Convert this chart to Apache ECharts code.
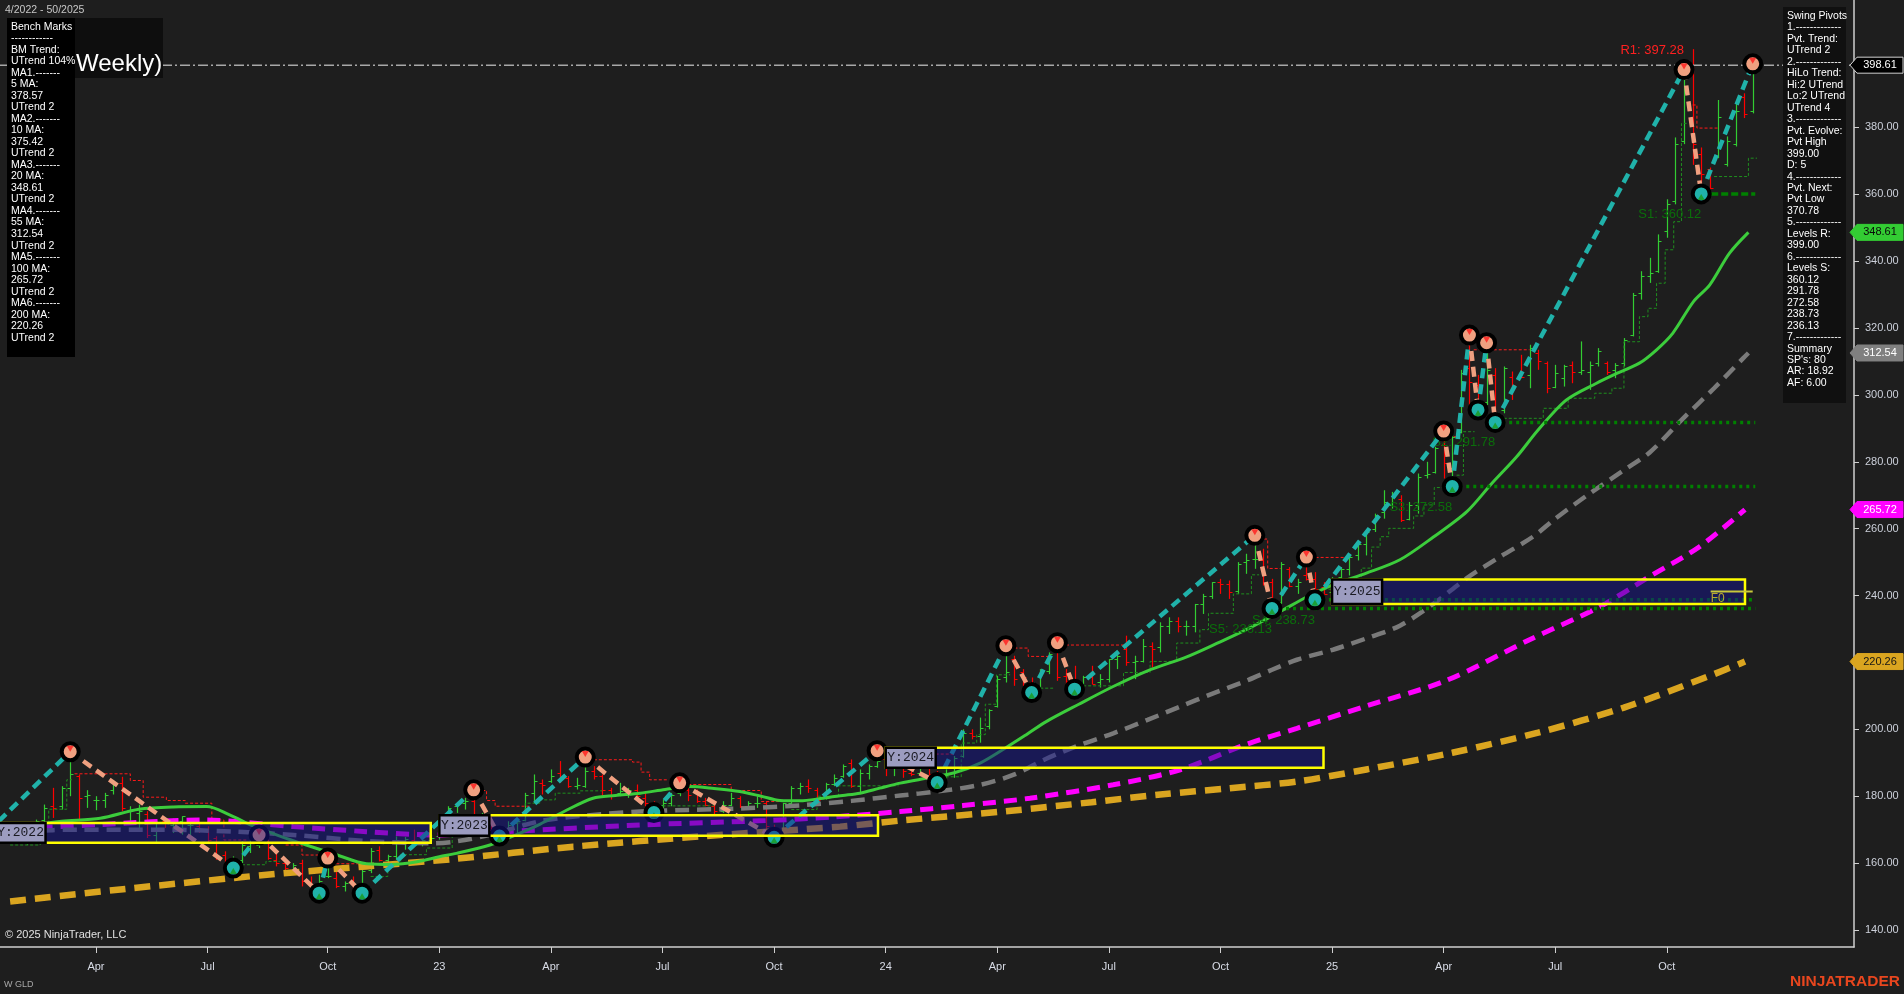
<!DOCTYPE html>
<html><head><meta charset="utf-8">
<script src="https://cdn.jsdelivr.net/npm/echarts@6/dist/echarts.min.js"></script>
<style>html,body{margin:0;padding:0;background:#1e1e1e;overflow:hidden}#c{width:1904px;height:994px}</style>
</head><body><div id="c"></div><script>
// ---------- DATA ----------
const xLabelIdx = [12,25,39,52,65,78,91,104,117,130,143,156,169,182,195];
const xLabelText = ['Apr','Jul','Oct','23','Apr','Jul','Oct','24','Apr','Jul','Oct','25','Apr','Jul','Oct'];
const yTicks = [140,160,180,200,220,240,260,280,300,320,340,360,380];

// weekly OHLC [open, high, low, close]; week index 0 = week of 2022-01-03
const start2022 = 3, start2023 = 52, start2024 = 104, start2025 = 156;
const bars2022 = [[171,171.5,166,166.5],[166.7,168,165.5,168],[168,173,167.5,172.5],[173,177.5,171.5,176.5],[177,182.5,173.5,176.5],[177,183,176,182.5],[182.5,193.3,180,186.5],[186,186.5,172.5,179.5],[180,181.8,176.5,180.5],[179,180,175.8,179],[179,181,176.5,180.5],[182,184.8,180.5,183.5],[184,185.8,175.5,176.5],[176,177,172,176],[175,177.5,170.5,175.5],[174.8,175.5,167.5,168.5],[168.5,172.5,166,172],[172.5,173.5,170.5,172],[171.5,173.3,169,173],[172.6,174,168.5,174],[171.5,172.5,167.5,171.5],[171,172,169,170],[170,171,166,167],[167.5,168,161,162],[162.5,163.5,159,160],[159.5,162,158.5,161.5],[161,166.5,160,165.5],[165,167,163,166],[165.5,168.4,164.5,167],[166.7,167,161,161.5],[161,163.5,159,160],[160,161,157,158.5],[157.5,160,156.5,159.5],[160,161,153,154.5],[154,156,152,152.5],[152.5,156.5,151,154.5],[156,161.5,155.5,156],[155.5,157.5,152.5,153],[153,154.5,151.5,154],[154,156,152,152.5],[152.5,158,151,157.5],[158,164.5,157,163.5],[164,165,160.5,161],[161,162.5,160,162],[162,168,161,167],[166.7,167.8,164,167.2],[167,170,165,166.5],[166.5,168.5,165,167],[167,168.5,166.5,167.5]];
const bars2023 = [[168,172,167,172],[172,177,171,176.5],[177,178,175,178],[178,179.5,176,178.5],[178.5,181.9,173,173.5],[173,175,172,173],[173,174,169.5,170],[170,171,168.1,168.5],[168.5,172.5,168.5,171.5],[172,173,168.5,172.5],[173,181,172.5,180.5],[181,186.5,178,184.5],[184,185,180.5,183.3],[184.5,188,184,186],[187,190.5,184,185],[185.5,186,182.5,183],[183,185.5,182,183.2],[183,191.7,182.5,187.5],[187.5,189,185,186],[186,186.5,180,182],[182,182.5,179,180.5],[181,184,180,181.5],[181.5,182.5,179.5,182],[182,183.5,178.5,180],[179.5,181,177,178],[178,178.5,175.1,177.5],[177.5,179,176.5,178],[178,181,177,180.5],[181,184,180,182],[182,183,178.5,180.5],[181,182,178,178.5],[178.5,179.5,177,177.5],[177,178,174.5,175.5],[175.5,178.5,175,177.5],[177.5,181,177,179.5],[179.5,180,176.5,177],[177,178.5,176,178],[178,180,176.5,178],[178,178.5,170,171],[170.5,171.5,167.7,169],[170,178,169.5,178],[178,183,176.5,182.5],[182.5,184,180.5,183],[183,185,181,182.5],[182,182.5,178,179],[179.5,184,179,183.5],[183.5,186.5,183,185.5],[186,189.5,185.5,189],[190,191,182.5,183],[183,188,181,187],[187,189.5,185,189],[189,193.6,188.5,190.5]];
const bars2024 = [[191,191.5,186,189],[188.5,189.8,186,189],[189.5,190,185.5,187.5],[187,188.5,186,186.7],[187,191,186,188.5],[188.5,189.5,186,186.5],[186.5,187.5,184.1,186],[186,188,185,187],[187,192,185.5,191.5],[192,200,191.5,199],[199,200,197,198],[198,203.5,196,200.5],[201,206,200,205.7],[207,216,206.5,215],[215.5,225,214,217],[221,222,213,215],[217,218,213,215.5],[214,215.5,211,212.5],[212.5,218,212,217.5],[217.5,223,216.5,222.5],[225,225.9,214.5,215.5],[216,218,213.5,214.5],[215,219,212,212.5],[213,216,212.5,215.5],[215.5,219,213.5,213.5],[214,216.5,212.5,215],[215,221,214,221],[221,222.5,218,222],[224,228,219,220],[220,222,215,220.5],[220.5,227,220,225],[225,226,218.5,224],[224.5,232,223,231],[231,233.5,228.5,232.5],[232.5,233.5,229,231],[231,232.5,228,231],[231,237.5,229,237.5],[237.5,240.5,234.5,240],[240,244,239,244],[244,245,240.5,243.5],[243.5,244.5,239,241],[241.5,250,240.5,249.5],[250,252.5,246.5,250.5],[251,258,248,251],[250.5,254,243,246],[244,245,236.13,236.5],[238,250,237.5,249.5],[248,248.5,242.5,243],[243,245,240.5,244],[246,251.5,244.5,245],[245,247,238.73,242],[242.5,244,240.5,240.5]];
const bars2025 = [[241,245.5,240.5,245],[245.5,248.5,244.5,248],[248,252,246,251.5],[252,256,250.5,255.5],[255.5,259.5,252,259],[260,264.5,259,264],[265,271.5,263,268],[267,271,266,269.5],[269,270,262,262.5],[263,268,262.5,267],[267,276.5,264.5,275.5],[276,280,275,276.5],[277,284.5,276.5,284],[285,289.2,275,279.5],[278,288,272.58,287.5],[289,307.5,288.5,306.5],[308,317.9,296,304],[303,306,295.5,297],[298,315.6,297,307.5],[306,308,291.78,294],[295.5,308.5,294.5,308],[305.5,307,298.5,303],[306,312,305,305.5],[306,315,302,314],[312.5,313.5,307.5,310],[309.5,310,300.5,302],[302.5,309,302,306.5],[305,309,302.5,308.5],[309,310,303.5,307],[307,316,306,307.5],[307,310,301.5,309],[309.5,314,308.5,313],[309.5,310,306,307],[307.5,309.5,305,309],[309.5,317,308.5,316.5],[318,330.5,317.5,330],[330.5,337,328.5,335.5],[335.5,341,333.5,336.5],[337,348,336.5,346],[349,358.5,347,357],[358,377,357,375],[376,397.28,375,392],[397,403.4,368.8,375],[372,374,360.12,366],[367.5,368,361.4,362],[371,388.2,370.8,383],[369,377.3,368.3,376],[375,387.7,374.3,385],[389,390.2,382.8,384],[385,399,384.2,398.61]];

// moving averages: [week index, value]
const ma20 = [[5,171.5],[8,172.5],[12.5,173.4],[17,176.1],[21,176.8],[24.9,176.9],[27.5,174.5],[30.3,171.1],[33.5,168],[36.5,165.4],[40,162.5],[43.5,159.8],[46.5,159.6],[49.4,160.4],[52,161.9],[54,162.9],[57.9,165.4],[60.5,168],[63.7,171.6],[66.8,175.8],[69.9,179.4],[72.5,180.2],[75.4,180.9],[78.3,182],[81.2,182.9],[84,182.3],[87,181.4],[89.5,180],[91.7,178.7],[94,178.6],[96.7,179.4],[99,180.2],[101,180.9],[103.3,182.4],[105.7,183.9],[109,185.5],[112,187],[115,189.9],[118,194.5],[120.5,198.6],[122.7,202.3],[126.5,207.5],[130.5,212.8],[134.5,217.5],[139,221.6],[142.5,225.6],[146,229.8],[150.3,235.7],[153,239.5],[156.1,243.2],[160,246.7],[163.9,250.7],[167.8,257.5],[171.7,265.1],[174.6,273.5],[177.5,281.5],[180,289.5],[183.3,298.5],[186.8,303.5],[188.8,306],[191.8,309.5],[193.8,313.5],[195.7,318.5],[198.1,327.9],[200,332.9],[202.3,342.4],[204.5,348.61]];
const ma55 = [[3,169.5],[10,170],[20,170],[28,169.4],[35,168.4],[43.5,166.6],[51.3,165.9],[54,166.5],[58,168.5],[63.7,172.5],[69,174.2],[75.4,175.4],[81,175.9],[87,176.3],[94.8,177.4],[100,178.6],[105.7,180.2],[110,181.4],[115,183.4],[119,186.5],[122.7,191.2],[126.5,195.2],[130.5,198.8],[134.5,202.8],[138.3,206.8],[142,210.6],[146,214.5],[149,217.8],[151.9,220.8],[156.1,223.8],[160,227.2],[163.9,231],[167.8,237.5],[171.7,245.2],[175.5,251.5],[179.4,257.6],[182,263],[186,270.5],[190,277.5],[193,282.8],[196.9,293],[200.5,302],[203.9,311],[204.5,312.54]];
const ma100 = [[3,170.3],[12.5,171.5],[24.5,172.9],[35,170.9],[43.5,169.4],[51.3,168.4],[59.8,169.4],[75.4,171.4],[90,172.7],[98,173.8],[105.7,175.4],[113,177.2],[120.8,179.4],[130.5,183.4],[138.3,187.9],[146,195.5],[151.9,200.3],[160,207],[169.3,214.6],[179,226.8],[187.2,236.7],[193,245.7],[198.8,254.6],[204.1,265.72]];
const ma200 = [[2,148.5],[16.3,152.5],[31.9,156.5],[43.5,159],[53.6,161.2],[67.6,164.9],[83.1,168.1],[98.7,170.9],[105.7,172.7],[118,175.5],[128,178.2],[136,180.5],[144.1,182.4],[151.9,184.4],[160,188],[170,193],[180,199],[190,206.5],[200,216],[204.1,220.26]];

// swing pivots (alternating low/high)
const pivotX = [-2,9,28,31,38,39,43,56,59,69,77,80,91,103,110,118,121,124,126,147,149,153,154,169,170,172,173,174,175,197,199,205];
const pivotY = [165.9,193.3,158.5,168.4,151.0,161.5,151.0,181.9,168.1,191.7,175.1,184.0,167.7,193.6,184.1,225.0,211.0,225.9,212.0,258.0,236.13,251.5,238.73,289.2,272.58,317.9,295.5,315.6,291.78,397.28,360.12,399.0];

// trailing steps: runs of [fromWeek, toWeek, price]
const redSteps = [
 [[9.5,16,186.7],[16,17.5,184.7],[17.5,20.2,179.7],[20.2,22.4,178.7],[22.4,25.5,177.9],[25.5,26.9,172.9],[26.9,29.6,166.9]],
 [[32,34,166],[34,36,165.4],[36,38,162.4]],
 [[40,43.5,159.8]],
 [[57,57.5,181.7],[57.5,58.5,178.7],[58.5,62.5,177]],
 [[70,74.5,190.9],[74.5,75.5,190.2],[75.5,76.5,187.2],[76.5,78.5,184.9]],
 [[81,86,183.5],[86,89.5,181.7],[89.5,92,178.4]],
 [[104,112,192.6]],
 [[119,120.6,224.3],[120.6,123,221.8]],
 [[125,132,225.2]],
 [[147.5,148.5,256.9],[148.5,150,248.1]],
 [[153.5,157.5,251.4]],
 [[169,170.5,287.5]],
 [[172.5,179,313.5]],
 [[198,198.5,386.7],[198.5,201,379.8]]
];
const greenSteps = [
 [[2,5.5,165.4],[5.5,6.5,172],[6.5,8.6,176.1],[8.6,9.2,184.9]],
 [[29,31.8,159.5],[31.8,33.4,160.5]],
 [[44,46,156],[46,47.5,160],[47.5,50.5,162.5],[50.5,53.5,164.5],[53.5,55,170],[55,56.3,172.8]],
 [[60.5,62,172],[62,63.7,177.9],[63.7,65.5,178.9],[65.5,68.4,180.9],[68.4,71,181.6]],
 [[78,84,177.1]],
 [[93,96,176],[96,98.5,180],[98.5,105.5,183.1]],
 [[111,112.8,185.8],[112.8,114.6,195.9],[114.6,115.6,198.4],[115.6,116.9,207.5],[116.9,118.5,216.3]],
 [[122,123.5,212.3]],
 [[127,131.7,213],[131.7,134.8,217],[134.8,137.9,220.3],[137.9,140.6,225.8],[140.6,141.6,229.8],[141.6,144.5,234.7],[144.5,146.6,240.5],[146.6,147.5,246.2]],
 [[155,159.4,241.9],[159.4,160.6,248.2],[160.6,161.6,254.5],[161.6,162.6,257.6],[162.6,165.5,260.1],[165.5,166.7,263.8],[166.7,167.9,267.1],[167.9,169,272.3]],
 [[170.5,171.3,276],[171.3,172.6,289]],
 [[176,180.6,293],[180.6,183.5,296],[183.5,186.6,299],[186.6,188.6,300.5],[188.6,190,302],[190,191.8,315.9],[191.8,192.8,323.4],[192.8,193.8,325.9],[193.8,194.8,333.4],[194.8,195.8,343.4],[195.8,196.7,351.8],[196.7,197.3,381.2]],
 [[200.5,204.5,365.3],[204.5,205.5,370.8]]
];

// support / resistance levels
const sLevelName = ['S1','S2','S3','S4','S5'];
const sLevelVal = [360.12,291.78,272.58,238.73,236.13];
const sLevelFrom = [199,175,170,154,149];
const sLevelTo = 205.3;
const r1Val = 397.28, r1From = 197;
const lastPrice = 398.61;
const f0Val = 241.2, f0From = 200.1, f0To = 205;

// yearly boxes
const boxLabel = ['Y:2022','Y:2023','Y:2024','Y:2025'];
const boxStart = [0.3,52,104,156];
const boxEnd = [51,103.1,155,204.1];
const boxLow = [166.1,168.2,188.5,237.5];
const boxHigh = [172.0,174.3,194.5,244.8];

// axis price tags
const tagValues = [398.61,348.61,312.54,265.72,220.26];

const leftInfo = ['Bench Marks','------------','BM Trend:','UTrend 104%','MA1.-------','5 MA:','378.57','UTrend 2','MA2.-------','10 MA:','375.42','UTrend 2','MA3.-------','20 MA:','348.61','UTrend 2','MA4.-------','55 MA:','312.54','UTrend 2','MA5.-------','100 MA:','265.72','UTrend 2','MA6.-------','200 MA:','220.26','UTrend 2'];
const rightInfo = ['Swing Pivots','1.-------------','Pvt. Trend:','UTrend 2','2.-------------','HiLo Trend:','Hi:2 UTrend','Lo:2 UTrend','UTrend 4','3.-------------','Pvt. Evolve:','Pvt High','399.00','D: 5','4.-------------','Pvt. Next:','Pvt Low','370.78','5.-------------','Levels R:','399.00','6.-------------','Levels S:','360.12','291.78','272.58','238.73','236.13','7.-------------','Summary',"SP's: 80",'AR: 18.92','AF: 6.00'];

// ---------- STYLES ----------
const FONT = "'Liberation Sans', Arial, sans-serif";
const X_MIN = 0.82, X_MAX = 216.8;
const tagFill = ['#000000','#33cc33','#808080','#ff00ff','#daa520'];
const tagTextCol = ['#ffffff','#0a0a0a','#ffffff','#ffffff','#151515'];
const TEAL = '#20b2aa', SALMON = '#f0a080';

// ---------- BUILD ----------
function buildBars(start, arr){ return arr.map((b,i)=>[start+i, b[0], b[1], b[2], b[3]]); }
const barData = [].concat(buildBars(start2022,bars2022), buildBars(start2023,bars2023), buildBars(start2024,bars2024), buildBars(start2025,bars2025));

function runsToPoints(runs){ const pts=[]; runs.forEach(r=>{pts.push([r[0],r[2]]);pts.push([r[1],r[2]]);}); return pts; }
function stepSeries(groups, color, z){
  return {type:'custom', clip:true, z:z, silent:true,
    data: groups.map((g,i)=>[g[0][0], g[0][2], i]), encode:{x:0,y:1},
    renderItem:(params,api)=>{
      const g = groups[params.dataIndex];
      const pts = runsToPoints(g).map(p=>api.coord(p));
      return {type:'polyline', shape:{points:pts}, style:{stroke:color, lineWidth:1, lineDash:[3,2], fill:null}};
    }};
}

const legs = [];
for (let i=0;i<pivotX.length-1;i++) legs.push([pivotX[i],pivotY[i],pivotX[i+1],pivotY[i+1]]);
const highs = [], lows = [];
pivotX.forEach((x,i)=>{ (i%2===1?highs:lows).push([x,pivotY[i]]); });

const series = [];
// OHLC bars
series.push({type:'custom', clip:true, z:2, silent:true, data:barData, encode:{x:0,y:[1,2,3,4]},
  renderItem:(params,api)=>{
    const x=api.value(0), o=api.value(1), h=api.value(2), l=api.value(3), c=api.value(4);
    const pH=api.coord([x,h]), pL=api.coord([x,l]), pO=api.coord([x,o]), pC=api.coord([x,c]);
    const col = c>=o ? '#32cd32' : '#ff0000';
    const X = Math.round(pH[0])+0.5;
    return {type:'group', children:[
      {type:'line', shape:{x1:X,y1:pH[1],x2:X,y2:pL[1]}, style:{stroke:col,lineWidth:1.2}},
      {type:'line', shape:{x1:X-3,y1:Math.round(pO[1])+0.5,x2:X,y2:Math.round(pO[1])+0.5}, style:{stroke:col,lineWidth:1}},
      {type:'line', shape:{x1:X,y1:Math.round(pC[1])+0.5,x2:X+3,y2:Math.round(pC[1])+0.5}, style:{stroke:col,lineWidth:1}}
    ]};
  }});
series.push(stepSeries(redSteps,'#ff1a1a',3));
series.push(stepSeries(greenSteps,'#1f8f1f',3));
// moving averages
series.push({type:'line', data:ma200, showSymbol:false, smooth:0.3, silent:true, z:4, lineStyle:{color:'#daa520', width:6.5, type:[16,9]}});
series.push({type:'line', data:ma100, showSymbol:false, smooth:0.3, silent:true, z:4, lineStyle:{color:'#ff00ff', width:5, type:[13,8]}});
series.push({type:'line', data:ma55, showSymbol:false, smooth:0.3, silent:true, z:4, lineStyle:{color:'#7a7a7a', width:4.5, type:[14,8]}});
series.push({type:'line', data:ma20, showSymbol:false, smooth:0.3, silent:true, z:4, lineStyle:{color:'#3ccd3c', width:3}});
// support level lines + labels
series.push({type:'custom', clip:true, z:5, silent:true,
  data: sLevelVal.map((v,i)=>[sLevelFrom[i], v, i]), encode:{x:0,y:1},
  renderItem:(params,api)=>{
    const i = params.dataIndex, v = sLevelVal[i];
    const p0 = api.coord([sLevelFrom[i], v]), p1 = api.coord([sLevelTo, v]);
    return {type:'group', children:[
      {type:'line', shape:{x1:p0[0],y1:p0[1],x2:p1[0],y2:p1[1]}, style:{stroke:'#008000', lineWidth:3.5, lineDash: i===0?[7,3]:[3,4]}},
      {type:'text', x:p0[0], y:p0[1]+14, style:{text: sLevelName[i]+': '+v.toFixed(2), fill:'#0b6e0b', font:'13px '+FONT, align:'right', textAlign:'right', verticalAlign:'top', textVerticalAlign:'top'}}
    ]};
  }});
// current price dash-dot line
series.push({type:'line', data:[[X_MIN,lastPrice],[X_MAX,lastPrice]], showSymbol:false, silent:true, z:5, lineStyle:{color:'#a8a8a8', width:1.5, type:[10,3,2,3]}});
// zigzag legs
series.push({type:'custom', clip:true, z:6, silent:true, data:legs, encode:{x:[0,2], y:[1,3]},
  renderItem:(params,api)=>{
    const a = api.coord([api.value(0),api.value(1)]), b = api.coord([api.value(2),api.value(3)]);
    const up = api.value(3) > api.value(1);
    return {type:'line', shape:{x1:a[0],y1:a[1],x2:b[0],y2:b[1]}, style:{stroke: up?TEAL:SALMON, lineWidth:4.5, lineDash:[10,6]}};
  }});
// pivot markers
series.push({type:'scatter', data:highs, symbol:'circle', symbolSize:17, silent:true, z:7, itemStyle:{color:SALMON, borderColor:'#000', borderWidth:4, opacity:1}});
series.push({type:'scatter', data:lows, symbol:'circle', symbolSize:17, silent:true, z:7, itemStyle:{color:TEAL, borderColor:'#000', borderWidth:4, opacity:1}});
series.push({type:'scatter', data:highs, symbol:'triangle', symbolRotate:180, symbolSize:[7,6], symbolOffset:[0,-3], silent:true, z:7, itemStyle:{color:'#ff1a1a'}});
series.push({type:'scatter', data:lows, symbol:'triangle', symbolSize:[7,6], symbolOffset:[0,3], silent:true, z:7, itemStyle:{color:'#1a9a1a'}});
// R1 label
series.push({type:'custom', clip:false, z:9, silent:true, data:[[r1From, r1Val]], encode:{x:0,y:1},
  renderItem:(params,api)=>{
    const p = api.coord([r1From, r1Val]);
    return {type:'text', x:p[0], y:p[1]-13, style:{text:'R1: '+r1Val.toFixed(2), fill:'#ff2020', font:'13px '+FONT, align:'right', textAlign:'right', verticalAlign:'bottom', textVerticalAlign:'bottom'}};
  }});
// yearly boxes
series.push({type:'custom', clip:true, z:8, silent:true,
  data: boxLabel.map((s,i)=>[boxStart[i], boxHigh[i], boxEnd[i], boxLow[i]]), encode:{x:[0,2], y:[1,3]},
  renderItem:(params,api)=>{
    const i = params.dataIndex;
    const p0 = api.coord([boxStart[i], boxHigh[i]]), p1 = api.coord([boxEnd[i], boxLow[i]]);
    const h = p1[1]-p0[1];
    return {type:'group', children:[
      {type:'rect', shape:{x:p0[0], y:p0[1], width:p1[0]-p0[0], height:h}, style:{fill:'rgba(20,20,140,0.5)', stroke:'#ffff00', lineWidth:2.5}},
      {type:'rect', shape:{x:p0[0], y:p0[1], width:50, height:h}, style:{fill:'#9c9cc0', stroke:'#000', lineWidth:2.5}, z2:2},
      {type:'text', x:p0[0]+25, y:p0[1]+h/2, z2:3, style:{text:boxLabel[i], fill:'#1a1a22', font:"13px 'Liberation Mono', 'DejaVu Sans Mono', monospace", align:'center', textAlign:'center', verticalAlign:'middle', textVerticalAlign:'middle'}}
    ]};
  }});
// F0 marker
series.push({type:'custom', clip:false, z:9, silent:true, data:[[f0From, f0Val]], encode:{x:0,y:1},
  renderItem:(params,api)=>{
    const a = api.coord([f0From, f0Val]), b = api.coord([f0To, f0Val]);
    return {type:'group', children:[
      {type:'line', shape:{x1:a[0],y1:a[1],x2:b[0],y2:b[1]}, style:{stroke:'#c8c83a', lineWidth:2}},
      {type:'text', x:a[0], y:a[1]+1.5, style:{text:'F0', fill:'#b8aa30', font:'12px '+FONT, align:'left', textAlign:'left', verticalAlign:'top', textVerticalAlign:'top'}}
    ]};
  }});
// axis price tags
series.push({type:'custom', clip:false, z:20, silent:true, data: tagValues.map((v,i)=>[X_MAX, v, i]), encode:{x:0,y:1},
  renderItem:(params,api)=>{
    const i = params.dataIndex;
    const p = api.coord([X_MAX, tagValues[i]]);
    const x0 = p[0], y = p[1];
    return {type:'group', children:[
      {type:'polygon', shape:{points:[[x0-4,y],[x0+3,y-8],[x0+49,y-8],[x0+49,y+8],[x0+3,y+8]]}, style:{fill:tagFill[i], stroke: i===0?'#d0d0d0':tagFill[i], lineWidth:1}},
      {type:'text', x:x0+26, y:y, style:{text:tagValues[i].toFixed(2), fill:tagTextCol[i], font:'11px '+FONT, align:'center', textAlign:'center', verticalAlign:'middle', textVerticalAlign:'middle'}}
    ]};
  }});

const option = {
  backgroundColor:'#1e1e1e',
  animation:false,
  grid:{left:0, right:50, top:0, bottom:47, containLabel:false},
  xAxis:{type:'value', min:X_MIN, max:X_MAX,
    axisLine:{show:true, onZero:false, lineStyle:{color:'#cfcfcf', width:1.5}},
    splitLine:{show:false},
    axisTick:{show:true, customValues:xLabelIdx, length:6, lineStyle:{color:'#cfcfcf'}},
    axisLabel:{customValues:xLabelIdx, formatter:(v)=>{const k=xLabelIdx.indexOf(v);return k>=0?xLabelText[k]:'';}, color:'#d8dce6', fontSize:11, fontFamily:FONT, margin:14}},
  yAxis:{type:'value', position:'right', min:134.9, max:418.1, scale:true,
    splitLine:{show:false},
    axisLine:{show:true, lineStyle:{color:'#cfcfcf', width:1.5}},
    axisTick:{show:true, customValues:yTicks, length:5, lineStyle:{color:'#cfcfcf'}},
    axisLabel:{customValues:yTicks, formatter:(v)=>Number(v).toFixed(2), color:'#ccd0da', fontSize:11, fontFamily:FONT, margin:11}},
  series: series,
  graphic:[
    {type:'text', x:5, y:5, z:100, style:{text:'4/2022 - 50/2025', fill:'#c8c8c8', font:'10.5px '+FONT}},
    {type:'rect', shape:{x:75, y:18, width:88, height:60}, z:99, style:{fill:'#0e0e0e'}},
    {type:'text', x:76, y:52, z:100, style:{text:'Weekly)', fill:'#ffffff', font:'24px '+FONT}},
    {type:'rect', shape:{x:7, y:18, width:68, height:339}, z:100, style:{fill:'#000000'}},
    {type:'text', x:11, y:21, z:101, style:{text:leftInfo.join('\n'), fill:'#ffffff', font:'10.5px '+FONT, lineHeight:11.52}},
    {type:'rect', shape:{x:1783, y:7, width:63, height:396}, z:100, style:{fill:'#101010'}},
    {type:'text', x:1787, y:10.3, z:101, style:{text:rightInfo.join('\n'), fill:'#ffffff', font:'10.5px '+FONT, lineHeight:11.47}},
    {type:'text', x:5, y:929, z:100, style:{text:'\u00a9 2025 NinjaTrader, LLC', fill:'#e0e0e0', font:'11px '+FONT}},
    {type:'text', x:4, y:980, z:100, style:{text:'W GLD', fill:'#a8a8a8', font:'9px '+FONT}},
    {type:'text', x:1790, y:974, z:100, style:{text:'NINJATRADER', fill:'#e8461e', font:'bold 15.5px '+FONT}}
  ]
};
const chart = echarts.init(document.getElementById('c'), null, {renderer:'canvas', width:1904, height:994});
chart.setOption(option);
</script></body></html>
